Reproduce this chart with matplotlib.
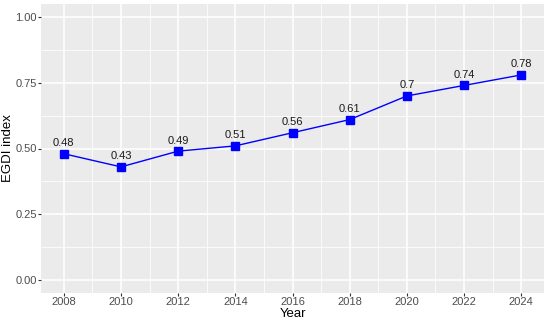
import matplotlib
matplotlib.use("Agg")
import matplotlib.pyplot as plt
import numpy as np

years = [2008, 2010, 2012, 2014, 2016, 2018, 2020, 2022, 2024]
egdi = [0.48, 0.43, 0.49, 0.51, 0.56, 0.61, 0.70, 0.74, 0.78]
labels = ["0.48", "0.43", "0.49", "0.51", "0.56", "0.61", "0.7", "0.74", "0.78"]

plt.rcParams["font.family"] = ["Liberation Sans", "DejaVu Sans"]

fig = plt.figure(figsize=(5.5, 3.21), dpi=100)
ax = fig.add_axes([41 / 550, 28 / 321, 503 / 550, 289 / 321])
ax.set_facecolor("#EBEBEB")

ax.plot(years, egdi, color="#0000FF", lw=1.0, marker="s", ms=5.2, zorder=3)
for x, y, t in zip(years, egdi, labels):
    ax.annotate(t, (x, y), xytext=(0, 4), textcoords="offset points",
                ha="center", va="bottom", fontsize=8, color="#1A1A1A")

ax.set_xlim(2008 - 0.8, 2024 + 0.8)
ax.set_ylim(-0.05, 1.05)
ax.set_xticks(years)
ax.set_yticks([0, 0.25, 0.5, 0.75, 1.0])
ax.set_yticklabels(["0.00", "0.25", "0.50", "0.75", "1.00"])
ax.set_xticks(np.arange(2009, 2024, 2), minor=True)
ax.set_yticks([0.125, 0.375, 0.625, 0.875], minor=True)
ax.grid(which="major", color="white", lw=1.1)
ax.grid(which="minor", color="white", lw=0.55)
ax.set_axisbelow(True)
for s in ax.spines.values():
    s.set_visible(False)
ax.tick_params(which="major", length=2, color="#333333", labelsize=8, labelcolor="#4D4D4D", pad=1)
ax.tick_params(which="minor", length=0)

ax.set_xlabel("Year", fontsize=9.5, labelpad=0.5)
ax.set_ylabel("EGDI index", fontsize=9.5, labelpad=1)

fig.savefig("out.png", dpi=100)
